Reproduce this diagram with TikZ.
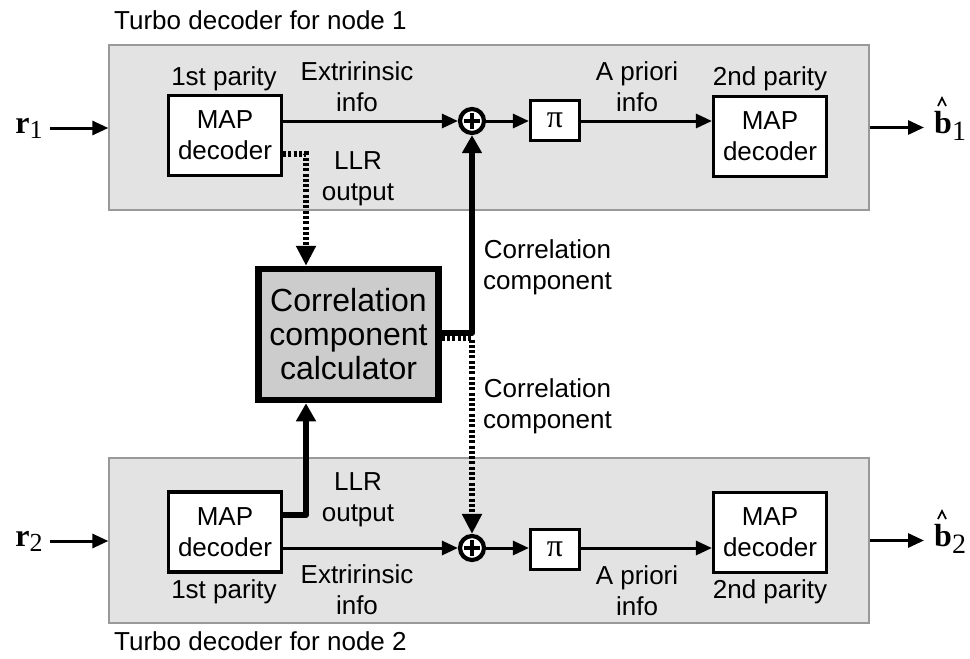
\documentclass[tikz,border=0pt]{standalone}
\usepackage{fontspec}
\setmainfont{Liberation Sans}
\newfontfamily\tms{Liberation Serif}
\usetikzlibrary{arrows.meta,calc}

\newcommand\dgmfont{\fontsize{26}{31}\selectfont}
\newcommand\bigfont{\fontsize{32}{34}\selectfont}

\begin{document}
\begin{tikzpicture}[x=1pt,y=-1pt,
  panel/.style={draw=black!40, fill=black!11, line width=1.3pt, inner sep=0pt},
  mapbox/.style={draw, fill=white, line width=3.2pt, minimum width=113pt,
    minimum height=80pt, inner sep=0pt, align=center, font=\dgmfont},
  pibox/.style={draw, fill=white, line width=3.2pt, minimum width=49pt,
    minimum height=40pt, inner sep=0pt, font=\tms\fontsize{32}{32}\selectfont},
  xorbox/.style={draw, fill=white, circle, line width=4.2pt, minimum size=24pt, inner sep=0pt},
  calcbox/.style={draw, fill=black!20, line width=6.5pt, minimum width=180pt,
    minimum height=131pt, inner sep=0pt, align=center, font=\bigfont},
  lbl/.style={align=center, font=\dgmfont, inner sep=0pt},
  sig/.style={font=\tms\fontsize{32}{32}\selectfont, inner sep=0pt},
  caret/.style={line width=1.7pt, line join=miter},
  arr/.style={line width=3pt, -{Triangle[length=16pt,width=14pt]}},
  fatarr/.style={line width=6pt, line join=round, -{Triangle[length=18pt,width=19pt]}},
  dotarr/.style={line width=5.5pt, dash pattern=on 3pt off 2.3pt,
    -{Triangle[length=20pt,width=19pt]}},
]
\useasboundingbox (0,0) rectangle (970,659);

% decoder panels
\node[panel, minimum width=760pt, minimum height=165pt] (p1) at (489,127.5) {};
\node[panel, minimum width=760pt, minimum height=165pt] (p2) at (489,540.5) {};
\node[lbl, anchor=west] (t1) at (114,20) {Turbo decoder for node 1};
\node[lbl, anchor=west] (t2) at (114,641) {Turbo decoder for node 2};

% node 1 decoder chain
\node[mapbox] (m1) at (225,135.5) {MAP\\decoder};
\node[xorbox] (x1) at (472,121) {};
\node[pibox] (pi1) at (555,120.5) {π};
\node[mapbox] (m2) at (770,136.5) {MAP\\decoder};

% node 2 decoder chain
\node[mapbox] (m3) at (225,532) {MAP\\decoder};
\node[xorbox] (x2) at (472,548) {};
\node[pibox] (pi2) at (555,549.5) {π};
\node[mapbox] (m4) at (770,532.5) {MAP\\decoder};

% plus signs in the adders
\foreach \x in {x1,x2}{
  \draw[line width=3.4pt] ([xshift=-8pt]\x.center) -- ([xshift=8pt]\x.center);
  \draw[line width=3.4pt] ([yshift=-8pt]\x.center) -- ([yshift=8pt]\x.center);
}

% correlation component calculator
\node[calcbox] (cc) at (348.5,334.5) {Correlation\\component\\calculator};

% inputs and outputs
\node[sig] (r1) at (29,128) {\textbf{r}\raisebox{-5pt}{\fontsize{26}{26}\selectfont 1}};
\node[sig] (r2) at (29,541) {\textbf{r}\raisebox{-5pt}{\fontsize{26}{26}\selectfont 2}};
\node[sig, anchor=base west] (b1) at (934,133) {\textbf{b}\raisebox{-7pt}{\fontsize{28}{28}\selectfont 1}};
\node[sig, anchor=base west] (b2) at (934,546) {\textbf{b}\raisebox{-7pt}{\fontsize{28}{28}\selectfont 2}};
\foreach \b in {b1,b2}
  \draw[caret] ($(\b.base west)+(4,-27)$) -- ($(\b.base west)+(8,-35)$) -- ($(\b.base west)+(12,-27)$);
\draw[arr] (r1.east) ++(7,0) coordinate (r1o) -- (r1o -| p1.west);
\draw[arr] (r2.east) ++(7,0) coordinate (r2o) -- (r2o -| p2.west);
\draw[arr] (p1.east) -- ([xshift=-10pt]b1.west |- p1.east);
\draw[arr] (p2.east) -- ([xshift=-10pt]b2.west |- p2.east);

% main signal paths
\draw[arr] (m1.east |- x1) -- (x1.west);
\draw[arr] (x1.east) -- (pi1.west |- x1);
\draw[arr] (pi1.east |- x1) -- (m2.west |- x1);
\draw[arr] (m3.east |- x2) -- (x2.west);
\draw[arr] (x2.east) -- (pi2.west |- x2);
\draw[arr] (pi2.east |- x2) -- (m4.west |- x2);

% LLR outputs into the calculator
\coordinate (l1) at (306,154);
\coordinate (l2) at (306,515);
\draw[dotarr] (m1.east |- l1) -- (l1) -- (l1 |- cc.north);
\draw[fatarr] (m3.east |- l2) -- (l2) -- (l2 |- cc.south);

% correlation component outputs
\coordinate (cd) at (472,338);
\coordinate (cj) at (472,333);
\draw[dotarr] (cc.east |- cd) -- (cd) -- (x2.north);
\draw[fatarr] (cc.east |- cj) -- (cj) -- (x1.south);

% labels
\node[lbl] at (224,79) {1st parity};
\node[lbl] at (770,79) {2nd parity};
\node[lbl] at (224,592) {1st parity};
\node[lbl] at (770,592) {2nd parity};
\node[lbl] at (357,87) {Extririnsic\\info};
\node[lbl] at (357,590) {Extririnsic\\info};
\node[lbl] at (637,87) {A priori\\info};
\node[lbl] at (637,591) {A priori\\info};
\node[lbl] at (358,179) {LLR\\output};
\node[lbl] at (358,500) {LLR\\output};
\node[lbl, anchor=west] at (483,267) {Correlation\\component};
\node[lbl, anchor=west] at (483,406) {Correlation\\component};
\end{tikzpicture}
\end{document}
